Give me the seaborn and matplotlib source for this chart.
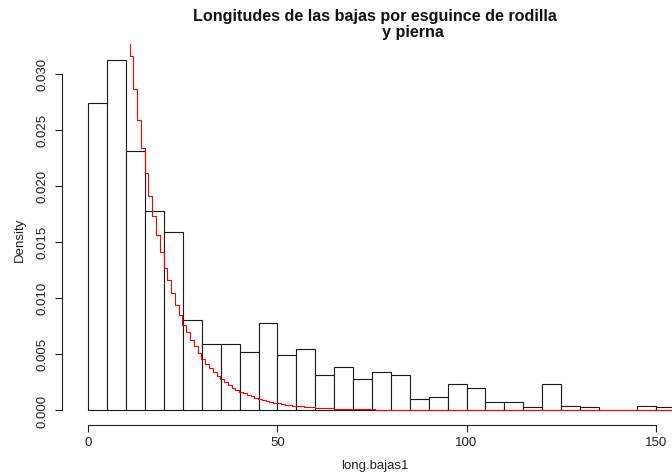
import numpy as np
import pandas as pd
import matplotlib
matplotlib.use("Agg")
import matplotlib.pyplot as plt
import seaborn as sns

# ---- data ----
bin_width = 5
hist_density = [0.0274, 0.0312, 0.0231, 0.0177, 0.0159, 0.0080, 0.0059, 0.0059,
                0.0052, 0.0078, 0.0049, 0.0054, 0.0031, 0.0038, 0.0028, 0.0034,
                0.0031, 0.0010, 0.0012, 0.0023, 0.0020, 0.0007, 0.0007, 0.00025,
                0.0023, 0.0004, 0.00025, 0.0, 0.0, 0.0004, 0.00025]

curve_x = [10.9, 11.9, 12.9, 13.9, 14.9, 15.9, 16.9, 17.9, 18.9, 19.9,
           20.9, 21.9, 22.9, 23.9, 24.9, 25.9, 26.9, 27.9, 28.9, 29.9,
           30.9, 31.9, 32.9, 33.9, 34.9, 35.9, 36.9, 37.9, 38.9, 39.9,
           40.9, 41.9, 42.9, 43.9, 44.9, 45.9, 46.9, 47.9, 48.9, 49.9,
           50.9, 51.9, 52.9, 53.9, 54.9, 55.9, 56.9, 57.9, 58.9, 59.9,
           60.9, 61.9, 62.9, 63.9, 64.9, 65.9, 66.9, 67.9, 68.9, 69.9,
           70.9, 71.9, 72.9, 73.9, 74.9, 75.9, 76.9, 160.0]
curve_y_milli = [32.6, 31.6, 28.6, 25.85, 23.35, 21.1, 19.1, 17.26, 15.6, 14.1,
                 12.7, 11.56, 10.4, 9.36, 8.44, 7.6, 6.92, 6.27, 5.67, 5.08,
                 4.57, 4.13, 3.77, 3.42, 3.06, 2.76, 2.5, 2.25, 2.0, 1.81,
                 1.63, 1.48, 1.34, 1.21, 1.10, 0.99, 0.90, 0.81, 0.73, 0.66,
                 0.60, 0.54, 0.49, 0.44, 0.40, 0.36, 0.33, 0.30, 0.27, 0.24,
                 0.22, 0.20, 0.18, 0.16, 0.15, 0.13, 0.12, 0.11, 0.10, 0.09,
                 0.08, 0.07, 0.065, 0.06, 0.05, 0.045, 0.04, 0.0]

x_ticks = [0, 50, 100, 150]
y_ticks = [0.000, 0.005, 0.010, 0.015, 0.020, 0.025, 0.030]
title_line1 = "Longitudes de las bajas por esguince de rodilla"
title_line2 = "y pierna"
x_label = "long.bajas1"
y_label = "Density"

assert len(curve_x) == len(curve_y_milli)

# ---- build frames ----
n_bins = len(hist_density)
centers = np.arange(n_bins) * bin_width + bin_width / 2
hist_df = pd.DataFrame({"x": centers, "w": hist_density})
curve_df = pd.DataFrame({"x": curve_x, "y": np.array(curve_y_milli) / 1000.0})

sns.set_style("white")
plt.rcParams["font.family"] = ["Liberation Sans", "DejaVu Sans"]

W, H = 672, 477
fig = plt.figure(figsize=(W / 100, H / 100), dpi=100)

# axes placement in pixels
ax_left, ax_right, ax_top, ax_bottom = 61.7, 672.0, 34.5, 425.5
ax = fig.add_axes([ax_left / W, 1 - ax_bottom / H,
                   (ax_right - ax_left) / W, (ax_bottom - ax_top) / H])

sns.histplot(data=hist_df, x="x", weights="w", binwidth=bin_width,
             binrange=(0, n_bins * bin_width), stat="count",
             fill=True, color="white", edgecolor="#1a1a1a", linewidth=0.8,
             alpha=1.0, ax=ax)
sns.lineplot(data=curve_df, x="x", y="y", drawstyle="steps-pre",
             color="red", linewidth=0.8, estimator=None, ax=ax, zorder=5)

# scales (pixel calibration: 0 -> 88.3 px, 150 -> 655.7 px; 0 -> 411 px, 0.030 -> 74.5 px)
px_per_x = (655.7 - 88.3) / 150
px_per_y = (411 - 74.5) / 0.030
ax.set_xlim(-(88.3 - ax_left) / px_per_x, (ax_right - 88.3) / px_per_x)
ax.set_ylim(-(ax_bottom - 411) / px_per_y, (411 - ax_top) / px_per_y)

for s in ["top", "right"]:
    ax.spines[s].set_visible(False)
for s in ["left", "bottom"]:
    ax.spines[s].set_color("#222222")
    ax.spines[s].set_linewidth(0.8)
ax.spines["left"].set_bounds(y_ticks[0], y_ticks[-1])
ax.spines["bottom"].set_bounds(x_ticks[0], x_ticks[-1])

ax.set_xticks(x_ticks)
ax.set_xticklabels([str(v) for v in x_ticks])
ax.set_yticks(y_ticks)
ax.set_yticklabels([f"{v:.3f}" for v in y_ticks], rotation=90, va="center")
ax.tick_params(axis="both", direction="out", length=4.8, width=0.8,
               color="#222222", labelsize=9.5, labelcolor="#222222", pad=3.5,
               bottom=True, left=True)
ax.tick_params(axis="y", pad=4.5)
ax.set_xlabel("")
ax.set_ylabel("")

fig.text(375 / W, 1 - 466 / H, x_label, ha="center", va="center",
         fontsize=9.5, color="#222222")
fig.text(20 / W, 1 - 240 / H, y_label, ha="center", va="center",
         rotation=90, fontsize=9.5, color="#222222")
fig.text(375 / W, 1 - 16 / H, title_line1, ha="center", va="center",
         fontsize=11.6, fontweight="bold", color="#111111")
fig.text(413 / W, 1 - 33 / H, title_line2, ha="center", va="center",
         fontsize=11.6, fontweight="bold", color="#111111")

fig.savefig("out.png", dpi=100)
